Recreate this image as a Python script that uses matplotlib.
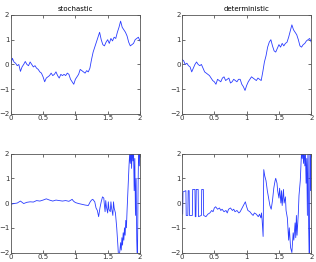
import matplotlib
matplotlib.use("Agg")
import matplotlib.pyplot as plt

# top row: sampled paths on a regular grid
t_top = [i * 0.025 for i in range(81)]

stoch_top = [0.0, 0.25, 0.1, 0.05, -0.05, 0.0, -0.28, -0.1, 0.0, 0.12,
             0.0, -0.05, 0.1, 0.0, -0.1, -0.05, -0.15, -0.2, -0.3, -0.35,
             -0.5, -0.7, -0.55, -0.5, -0.45, -0.35, -0.45, -0.4, -0.3, -0.45,
             -0.55, -0.4, -0.45, -0.4, -0.45, -0.35, -0.4, -0.6, -0.7, -0.8,
             -0.6, -0.5, -0.4, -0.2, -0.25, -0.3, -0.35, -0.25, -0.3, -0.15,
             0.2, 0.5, 0.7, 0.9, 1.1, 1.3, 1.0, 0.8, 0.75, 0.9,
             1.0, 0.85, 1.05, 0.95, 1.1, 1.05, 1.3, 1.5, 1.75, 1.5,
             1.4, 1.3, 1.15, 0.9, 0.75, 0.8, 0.85, 1.0, 1.05, 1.1, 0.95]

det_top = [0.2, 0.15, 0.0, 0.05, -0.05, -0.1, -0.3, -0.15, 0.0, 0.1,
           0.0, -0.05, 0.0, -0.15, -0.3, -0.35, -0.4, -0.45, -0.55, -0.65,
           -0.7, -0.8, -0.6, -0.65, -0.7, -0.55, -0.5, -0.65, -0.6, -0.55,
           -0.75, -0.7, -0.6, -0.65, -0.7, -0.6, -0.6, -0.8, -0.9, -1.05,
           -0.85, -0.7, -0.6, -0.5, -0.55, -0.6, -0.65, -0.55, -0.6, -0.65,
           -0.3, 0.1, 0.35, 0.7, 0.9, 1.0, 0.75, 0.55, 0.5, 0.65,
           0.8, 0.7, 0.85, 0.75, 0.85, 0.9, 1.1, 1.35, 1.6, 1.4,
           1.3, 1.2, 1.0, 0.75, 0.7, 0.8, 0.85, 0.95, 1.0, 1.05, 0.9]

# bottom row: irregularly read points
t_stoch_bot = [0, 0.05, 0.1, 0.15, 0.18, 0.2, 0.25, 0.3, 0.35, 0.4,
               0.45, 0.5, 0.55, 0.6, 0.65, 0.7, 0.75, 0.8, 0.85, 0.9,
               0.95, 0.97, 1.0, 1.05, 1.1, 1.15, 1.2, 1.23, 1.25, 1.27,
               1.3, 1.32, 1.34, 1.36, 1.38, 1.4, 1.42, 1.44, 1.45, 1.46,
               1.47, 1.48, 1.5, 1.51, 1.52, 1.54, 1.55, 1.56, 1.58, 1.59,
               1.6, 1.62, 1.64, 1.66, 1.67, 1.69, 1.7, 1.71, 1.72, 1.73,
               1.74, 1.75, 1.76, 1.77, 1.78, 1.79, 1.8, 1.81, 1.82, 1.83,
               1.84, 1.85, 1.86, 1.87, 1.88, 1.89, 1.9, 1.91, 1.92, 1.93,
               1.94, 1.95, 1.96, 1.97, 1.98, 1.99, 2.0]
stoch_bot = [-0.05, -0.02, 0.0, 0.08, 0.02, -0.02, 0.03, 0.05, 0.04, 0.1,
             0.08, 0.12, 0.17, 0.12, 0.08, 0.12, 0.1, 0.08, 0.1, 0.07,
             0.15, 0.08, 0.02, -0.02, -0.05, -0.08, -0.1, 0.05, 0.12, 0.15,
             0.05, -0.2, -0.3, -0.55, -0.2, 0.05, 0.25, 0.2, -0.1, -0.35,
             0.1, -0.15, -0.4, 0.05, -0.25, -0.35, 0.05, -0.2, -0.5, 0.05,
             -0.2, -0.4, -1.0, -1.8, -2.3, -1.9, -1.6, -1.9, -1.4, -1.7,
             -1.2, -1.5, -1.0, -1.3, -0.7, -1.0, -0.3, 0.3, 0.9, 1.5,
             2.0, 1.6, 2.2, 1.4, 2.3, 1.7, 2.2, 0.5, 1.8, -0.5,
             1.0, -1.5, -2.5, 0.5, 2.5, 1.5, 2.5]

t_det_bot = [0, 0.01, 0.015, 0.06, 0.065, 0.09, 0.095, 0.11, 0.115, 0.16,
             0.165, 0.2, 0.205, 0.215, 0.22, 0.25, 0.255, 0.3, 0.305, 0.33,
             0.335, 0.37, 0.4, 0.43, 0.46, 0.48, 0.5, 0.52, 0.55, 0.58,
             0.6, 0.62, 0.65, 0.68, 0.7, 0.72, 0.75, 0.78, 0.8, 0.82,
             0.85, 0.88, 0.9, 0.93, 0.96, 0.98, 1.0, 1.02, 1.05, 1.08,
             1.1, 1.12, 1.15, 1.18, 1.2, 1.22, 1.23, 1.24, 1.255, 1.265,
             1.28, 1.3, 1.32, 1.34, 1.36, 1.38, 1.4, 1.42, 1.44, 1.45,
             1.47, 1.48, 1.5, 1.51, 1.52, 1.53, 1.54, 1.55, 1.57, 1.58,
             1.6, 1.61, 1.63, 1.65, 1.66, 1.67, 1.68, 1.7, 1.71, 1.72,
             1.73, 1.75, 1.76, 1.77, 1.78, 1.8, 1.81, 1.83, 1.84, 1.85,
             1.86, 1.87, 1.88, 1.89, 1.9, 1.91, 1.92, 1.93, 1.94, 1.95,
             1.96, 1.97, 1.98, 1.99, 2.0]
det_bot = [0.4, -0.45, 0.45, 0.5, -0.5, -0.5, 0.5, 0.5, -0.5, -0.5,
           0.55, 0.55, -0.55, -0.55, 0.55, 0.55, -0.55, -0.5, 0.55, 0.55,
           -0.5, -0.55, -0.45, -0.4, -0.3, -0.35, -0.2, -0.15, -0.25, -0.2,
           -0.3, -0.25, -0.35, -0.3, -0.4, -0.25, -0.2, -0.3, -0.25, -0.35,
           -0.3, -0.4, -0.35, -0.2, -0.05, 0.05, -0.15, -0.3, -0.35, -0.45,
           -0.5, -0.4, -0.45, -0.55, -0.45, -0.6, -0.4, -0.7, -1.35, 1.35,
           1.1, 0.9, 0.5, 0.2, -0.1, -0.25, 0.1, 0.6, 0.9, 1.0,
           0.8, 0.5, 0.2, 0.6, 0.3, 0.0, 0.5, -0.1, 0.55, 0.0,
           0.25, -0.3, -0.6, -1.5, -1.0, -1.4, -1.8, -2.0, -1.6, -1.2,
           -1.5, -0.8, -1.4, -0.5, -1.3, -0.4, 0.3, 0.9, 1.5, 2.1,
           1.8, 2.3, 1.6, 2.2, 1.5, 2.0, 0.8, 1.8, -0.5, 2.5,
           -1.0, -2.5, 2.5, 0.5, 2.5]

titles = ["stochastic", "deterministic"]
line_color = "#2a3cff"

fig = plt.figure(figsize=(3.16, 2.62), dpi=100)

lefts = [0.034, 0.576]
bottoms = [0.565, 0.036]
w, h = 0.409, 0.378

panels = [
    (0, 0, t_top, stoch_top),
    (0, 1, t_top, det_top),
    (1, 0, t_stoch_bot, stoch_bot),
    (1, 1, t_det_bot, det_bot),
]

for row, col, tt, yy in panels:
    ax = fig.add_axes([lefts[col], bottoms[row], w, h])
    ax.plot(tt, yy, color=line_color, linewidth=0.6)
    ax.set_xlim(0, 2)
    ax.set_ylim(-2, 2)
    ax.set_xticks([0, 0.5, 1, 1.5, 2])
    ax.set_xticklabels(["0", "0.5", "1", "1.5", "2"])
    ax.set_yticks([-2, -1, 0, 1, 2])
    ax.tick_params(direction="in", length=2, width=0.5, labelsize=5,
                   top=True, right=True, pad=1, colors="#333333")
    for s in ax.spines.values():
        s.set_linewidth(0.6)
        s.set_color("#555555")
    if row == 0:
        ax.set_title(titles[col], fontsize=5, pad=3)

fig.savefig("out.png", dpi=100)
